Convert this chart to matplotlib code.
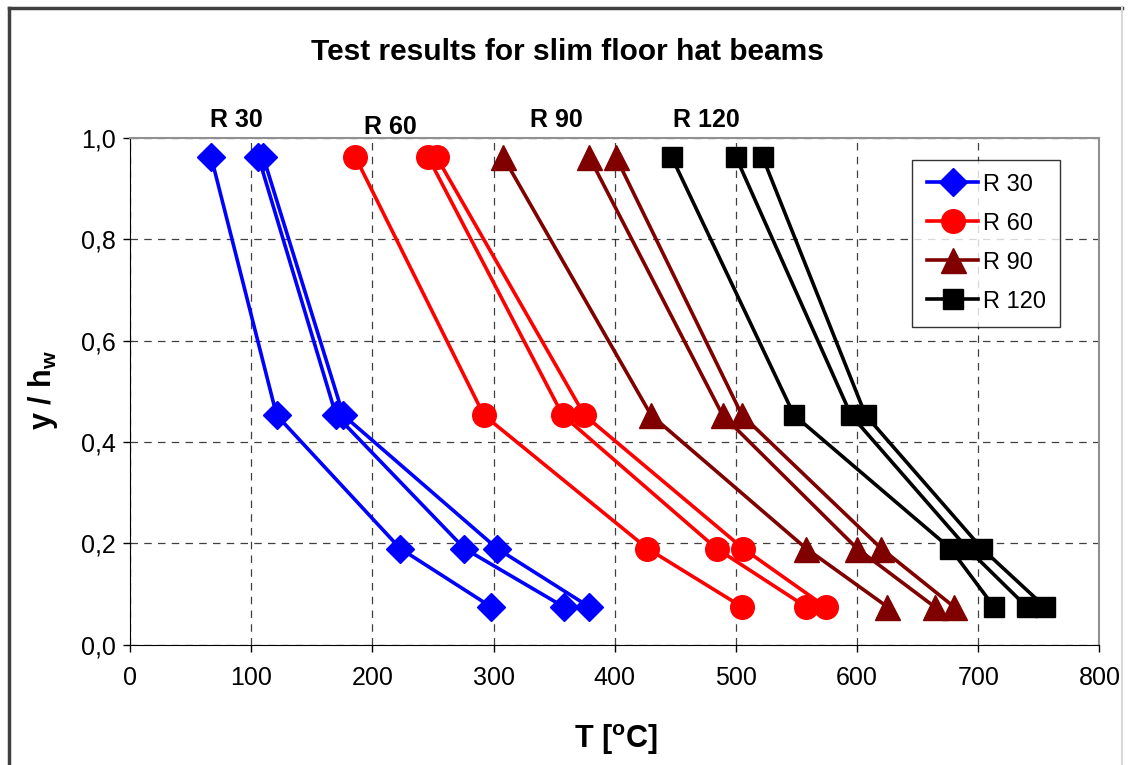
import matplotlib.pyplot as plt
from matplotlib.lines import Line2D
from matplotlib.ticker import FuncFormatter

plt.rcParams['font.family'] = ['Liberation Sans', 'DejaVu Sans']
plt.rcParams['mathtext.fontset'] = 'custom'
plt.rcParams['mathtext.rm'] = 'Liberation Sans'
plt.rcParams['mathtext.bf'] = 'Liberation Sans:bold'

# relative height of the measuring points
y_levels = [0.962, 0.453, 0.19, 0.075]

# temperatures [C] per test, three tests per fire class
r30_temps = [[67, 121, 223, 298], [106, 170, 276, 358], [110, 176, 303, 379]]
r60_temps = [[186, 292, 427, 505], [246, 357, 484, 558], [253, 375, 506, 574]]
r90_temps = [[308, 430, 558, 625], [379, 489, 600, 664], [401, 505, 620, 680]]
r120_temps = [[447, 548, 677, 713], [500, 595, 691, 740], [522, 607, 703, 755]]

labels = ["R 30", "R 60", "R 90", "R 120"]
label_pos = [(88, 1.035), (215, 1.022), (352, 1.035), (476, 1.035)]

fig = plt.figure(figsize=(11.3, 7.65), dpi=100)
ax = fig.add_axes([0.115, 0.157, 0.858, 0.663])

styles = [("#0000ff", "D", 14), ("#ff0000", "o", 17), ("#800000", "^", 18), ("#000000", "s", 15)]
groups = [r30_temps, r60_temps, r90_temps, r120_temps]

for temps, lab, (col, mk, ms) in zip(groups, labels, styles):
    for i, t in enumerate(temps):
        ax.plot(t, y_levels, color=col, marker=mk, markersize=ms, lw=2.6,
                label=lab if i == 0 else None, clip_on=False, zorder=3)

for lab, (x, y) in zip(labels, label_pos):
    ax.text(x, y, lab, ha='center', va='center', fontsize=18, fontweight='bold')

ax.set_xlim(0, 800)
ax.set_ylim(0, 1.0)
ax.set_xticks(range(0, 801, 100))
ax.set_yticks([0, 0.2, 0.4, 0.6, 0.8, 1.0])
ax.yaxis.set_major_formatter(FuncFormatter(lambda v, p: f"{v:.1f}".replace('.', ',')))
ax.tick_params(labelsize=18, direction='out', length=5, width=1)
ax.tick_params(axis='x', pad=10)
ax.tick_params(axis='y', pad=5)
ax.grid(True, color='black', linestyle=(0, (6, 5)), lw=0.9, alpha=0.75)
ax.set_axisbelow(True)
for s in ['top', 'right']:
    ax.spines[s].set_color('#909090')
    ax.spines[s].set_linewidth(1.5)

ax.legend(loc='upper left', bbox_to_anchor=(0.807, 0.957), fontsize=17,
          frameon=True, fancybox=False, edgecolor='black', borderpad=0.6,
          labelspacing=0.72, handlelength=2.2, handletextpad=0.2, borderaxespad=0)

fig.text(0.502, 0.932, "Test results for slim floor hat beams", ha='center', va='center',
         fontsize=21.5, fontweight='bold')
fig.text(0.545, 0.033, r"T [$^\mathbf{o}$C]", ha='center', va='center', fontsize=22, fontweight='bold')
fig.text(0.038, 0.49, r"y / h$_\mathbf{w}$", ha='center', va='center', rotation=90,
         fontsize=22, fontweight='bold')

# outer chart border (left/top dark, right light)
fig.add_artist(Line2D([0.008, 0.008], [0, 0.99], transform=fig.transFigure, color='#404040', lw=2.5))
fig.add_artist(Line2D([0.008, 0.993], [0.99, 0.99], transform=fig.transFigure, color='#404040', lw=2.5))
fig.add_artist(Line2D([0.993, 0.993], [0, 0.99], transform=fig.transFigure, color='#d8d8d8', lw=1.5))

fig.savefig('out.png', dpi=100)
